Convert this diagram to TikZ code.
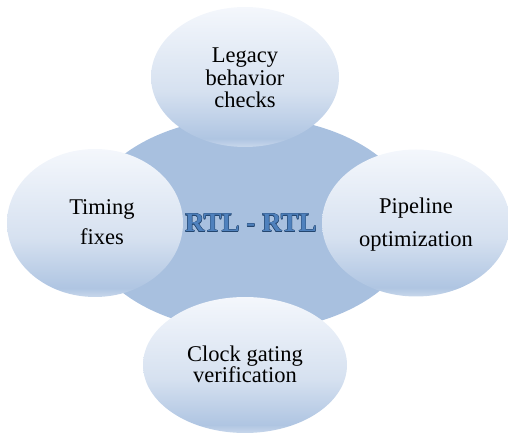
\documentclass[tikz,border=0pt]{standalone}
\usepackage{fontspec}
\setmainfont{Liberation Serif}
\usetikzlibrary{shapes.geometric}

\definecolor{hubfill}{HTML}{A8C0DF}
\definecolor{bubtop}{HTML}{F4F7FC}
\definecolor{bubmid}{HTML}{D6E1F0}
\definecolor{bubbot}{HTML}{AFC5E2}
\definecolor{bubrim}{HTML}{C8D7EB}
\definecolor{hubtext}{HTML}{4F81BD}
\definecolor{hubedge}{HTML}{24466F}

% light-to-blue vertical fill of the outer bubbles, with a paler rim at the bottom
\pgfdeclareverticalshading{bubble}{100bp}{
  color(0bp)=(bubrim); color(25bp)=(bubrim); color(28bp)=(bubbot);
  color(45bp)=(bubmid); color(75bp)=(bubtop); color(100bp)=(bubtop)}

\tikzset{
  hub/.style={ellipse, fill=hubfill, draw=none, inner sep=0pt},
  bubble/.style={ellipse, shading=bubble, draw=none, inner sep=0pt},
  label/.style={anchor=base, inner sep=0pt,
    font=\fontsize{22.5}{27}\selectfont, text=black},
  hublabel/.style={anchor=base, inner sep=0pt,
    font=\bfseries\fontsize{27}{32}\selectfont},
}

\begin{document}
\begin{tikzpicture}[x=1pt, y=1pt]
  \useasboundingbox (0,0) rectangle (508,433);

  % central hub
  \node[hub, minimum width=332pt, minimum height=214pt] (hub) at (250,209) {};
  % thin dark outline of the title: shifted copies under the blue fill
  \foreach \dx/\dy [count=\k] in {0.35/0,-0.35/0,0/0.35,0/-0.35,0.25/0.25,-0.25/0.25,0.25/-0.25,-0.25/-0.25}
    \node[hublabel, text=hubedge] (hubS\k) at (251+\dx,201+\dy) {RTL - RTL};
  \node[hublabel, text=hubtext] (hubT) at (251,201) {RTL - RTL};

  % surrounding bubbles
  \node[bubble, minimum width=188pt, minimum height=140pt] (legacy) at (245,356) {};
  \node[bubble, minimum width=176pt, minimum height=148pt] (timing) at (95,210) {};
  \node[bubble, minimum width=188pt, minimum height=147pt] (pipe) at (416,210) {};
  \node[bubble, minimum width=204pt, minimum height=136pt] (clock) at (245,68) {};

  % bubble texts
  \node[label] (legacy1) at (245,370) {Legacy};
  \node[label] (legacy2) at (245,347.5) {behavior};
  \node[label] (legacy3) at (245,325) {checks};

  \node[label] (timing1) at (102,218) {Timing};
  \node[label] (timing2) at (102,188) {fixes};

  \node[label] (pipe1) at (416,219) {Pipeline};
  \node[label] (pipe2) at (416,186) {optimization};

  \node[label] (clock1) at (245,71) {Clock gating};
  \node[label] (clock2) at (245,50) {verification};
\end{tikzpicture}
\end{document}
